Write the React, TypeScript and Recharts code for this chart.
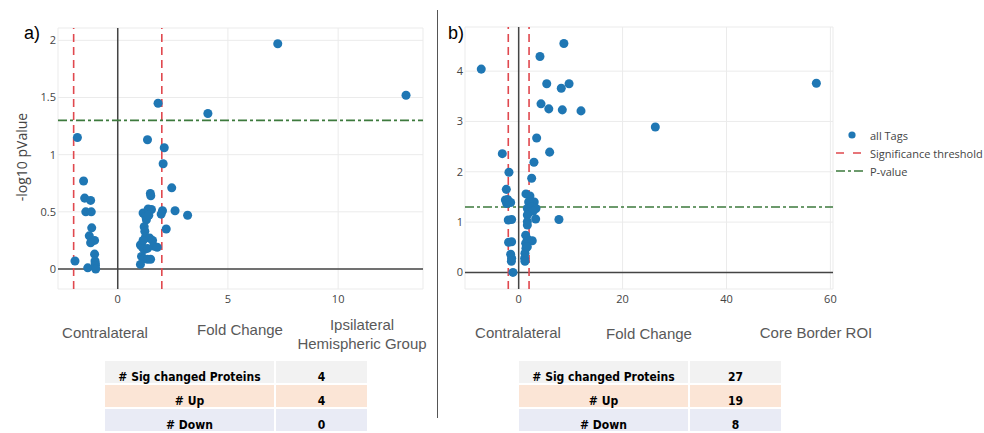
import {
  ScatterChart,
  Scatter,
  XAxis,
  YAxis,
  ZAxis,
  CartesianGrid,
  ReferenceLine,
} from "recharts";

// panel a) Contralateral vs Ipsilateral Hemispheric Group
const foldA = [
  7.26, 13.08, 1.83, 4.09, -1.83, 1.35, 2.11, 2.06, -1.55, 2.45, -1.5, -1.23,
  -1.45, -1.2, 1.48, 1.5, -1.18, -1.29, -1.05, -1.23, -1.05, -1.03, -1.02,
  -1.01, -1.36, -1.0, -1.94, 2.03, 1.97, 2.6, 3.17, 2.2, 1.15, 1.27, 1.3, 1.38,
  1.53, 1.41, 1.2, 1.23, 1.26, 1.45, 1.58, 1.64, 1.79, 1.03, 1.12, 1.2, 1.08,
  1.18, 1.35, 1.49, 1.03, 1.15, 1.35,
];
const logPA = [
  1.97, 1.52, 1.45, 1.36, 1.15, 1.13, 1.06, 0.92, 0.77, 0.71, 0.62, 0.6, 0.5,
  0.5, 0.66, 0.64, 0.36, 0.29, 0.25, 0.23, 0.13, 0.07, 0.05, 0.03, 0.01, 0.0,
  0.07, 0.51, 0.48, 0.51, 0.47, 0.35, 0.49, 0.46, 0.43, 0.525, 0.52, 0.47, 0.37,
  0.33, 0.28, 0.27, 0.25, 0.2, 0.19, 0.21, 0.19, 0.17, 0.11, 0.09, 0.085, 0.085,
  0.04, 0.25, 0.18,
];

// panel b) Contralateral vs Core Border ROI
const foldB = [
  -7.2, 8.7, 4.1, 5.4, 9.7, 8.2, 4.3, 5.8, 8.4, 12.0, 57.3, 26.3, 3.46, 5.96,
  -3.15, 2.94, -1.87, 2.5, -2.38, -2.56, -2.12, -1.54, -2.31, 1.4, 2.17, 3.0,
  1.92, 1.67, 2.5, 3.33, 2.04, 2.8, 7.75, 3.27, -2.0, -1.35, 1.67, 1.67, 1.67,
  -1.94, -1.35, 1.35, 1.67, 1.35, 2.04, 2.62, 1.4, 1.21, 1.15, 1.21, 1.67,
  -1.54, -1.35, -1.4, -1.1,
];
const logPB = [
  4.04, 4.55, 4.29, 3.75, 3.75, 3.66, 3.35, 3.25, 3.23, 3.21, 3.76, 2.89, 2.67,
  2.39, 2.36, 2.19, 1.99, 1.87, 1.65, 1.44, 1.45, 1.39, 1.37, 1.56, 1.52, 1.4,
  1.4, 1.27, 1.3, 1.27, 1.2, 1.22, 1.05, 1.06, 1.04, 1.05, 1.14, 1.01, 0.94, 0.6,
  0.61, 0.74, 0.66, 0.58, 0.63, 0.63, 0.48, 0.38, 0.28, 0.22, 0.51, 0.36, 0.28,
  0.22, 0.0,
];

const xTicksA = [0, 5, 10];
const yTicksA = [0, 0.5, 1, 1.5, 2];
const xTicksB = [0, 20, 40, 60];
const yTicksB = [0, 1, 2, 3, 4];

const foldThresholds = [-2, 2];
const pValueCut = 1.3;

const tableRows = ["# Sig changed Proteins", "# Up", "# Down"];
const countsA = [4, 4, 0];
const countsB = [27, 19, 8];
const rowColors = ["#f2f2f2", "#fbe5d6", "#e9ebf5"];

const DOT = "#1f77b4";
const RED = "#e0484e";
const GREEN = "#3d7a3d";
const AXIS = "#444";
const tickStyle = { fontFamily: "'Open Sans', sans-serif", fontSize: 11, fill: AXIS };

const zip = (xs: number[], ys: number[]) => xs.map((x, i) => ({ x, y: ys[i] }));

interface VolcanoProps {
  fold: number[];
  logp: number[];
  xDomain: [number, number];
  yDomain: [number, number];
  xTicks: number[];
  yTicks: number[];
  width: number;
  yAxisWidth: number;
  right: number;
  top: number;
}

function Volcano({
  fold,
  logp,
  xDomain,
  yDomain,
  xTicks,
  yTicks,
  width,
  yAxisWidth,
  right,
  top,
}: VolcanoProps) {
  return (
    <ScatterChart
      width={width}
      height={330}
      margin={{ top, right, bottom: 11, left: 0 }}
    >
      <CartesianGrid stroke="#ebebeb" strokeWidth={1} />
      <XAxis
        type="number"
        dataKey="x"
        domain={xDomain}
        ticks={xTicks}
        allowDataOverflow
        axisLine={false}
        tickLine={false}
        tickSize={0}
        tickMargin={6}
        height={30}
        tick={tickStyle}
      />
      <YAxis
        type="number"
        dataKey="y"
        domain={yDomain}
        ticks={yTicks}
        allowDataOverflow
        axisLine={false}
        tickLine={false}
        tickSize={0}
        tickMargin={2}
        width={yAxisWidth}
        tick={tickStyle}
      />
      <ZAxis range={[44, 44]} />
      <ReferenceLine x={0} stroke={AXIS} strokeWidth={1.5} />
      <ReferenceLine y={0} stroke={AXIS} strokeWidth={1.5} />
      {foldThresholds.map((t) => (
        <ReferenceLine
          key={t}
          x={t}
          stroke={RED}
          strokeWidth={1.6}
          strokeDasharray="8 5"
        />
      ))}
      <ReferenceLine
        y={pValueCut}
        stroke={GREEN}
        strokeWidth={1.6}
        strokeDasharray="9 3 3 3"
      />
      <Scatter
        data={zip(fold, logp)}
        fill={DOT}
        isAnimationActive={false}
      />
    </ScatterChart>
  );
}

function CountTable({ left, counts }: { left: number; counts: number[] }) {
  return (
    <div
      style={{
        position: "absolute",
        left,
        top: 361,
        fontFamily: "'Liberation Sans Narrow', 'DejaVu Sans Condensed', sans-serif",
        fontWeight: 700,
        fontSize: 12,
        color: "#000",
      }}
    >
      {tableRows.map((r, i) => (
        <div
          key={r}
          style={{
            display: "flex",
            height: 24,
            boxSizing: "border-box",
            borderBottom: "2px solid #fff",
            background: rowColors[i],
          }}
        >
          <div
            style={{
              width: 169,
              borderRight: "2px solid #fff",
              textAlign: "center",
              paddingTop: 10,
              lineHeight: "12px",
            }}
          >
            {r}
          </div>
          <div
            style={{
              width: 91,
              textAlign: "center",
              paddingTop: 10,
              lineHeight: "12px",
            }}
          >
            {counts[i]}
          </div>
        </div>
      ))}
    </div>
  );
}

const labelStyle: React.CSSProperties = {
  position: "absolute",
  fontFamily: "'Liberation Sans', Arial, sans-serif",
  fontSize: 15,
  color: "#595959",
  textAlign: "center",
  lineHeight: "19px",
  whiteSpace: "nowrap",
  transform: "translate(-50%, -50%)",
};

const legendText: React.CSSProperties = {
  fontFamily: "'Open Sans', sans-serif",
  fontSize: 11,
  color: AXIS,
};

export default function App() {
  return (
    <div
      style={{
        position: "absolute",
        left: 0,
        top: 0,
        width: 984,
        height: 433,
        overflow: "hidden",
        background: "#fff",
      }}
    >
      <div style={{ position: "absolute", left: 0, top: 0 }}>
        <Volcano
          fold={foldA}
          logp={logPA}
          xDomain={[-2.71, 13.85]}
          yDomain={[-0.175, 2.108]}
          xTicks={xTicksA}
          yTicks={yTicksA}
          width={440}
          yAxisWidth={58}
          right={17}
          top={28}
        />
      </div>
      <div style={{ position: "absolute", left: 440, top: 0 }}>
        <Volcano
          fold={foldB}
          logp={logPB}
          xDomain={[-10.33, 60.5]}
          yDomain={[-0.33, 4.877]}
          xTicks={xTicksB}
          yTicks={yTicksB}
          width={400}
          yAxisWidth={25}
          right={7}
          top={27}
        />
      </div>

      {/* y axis title of panel a */}
      <div
        style={{
          position: "absolute",
          left: 21,
          top: 157,
          transform: "translate(-50%, -50%) rotate(-90deg)",
          fontFamily: "'Open Sans', sans-serif",
          fontSize: 14,
          color: AXIS,
          whiteSpace: "nowrap",
        }}
      >
        -log10 pValue
      </div>

      <div
        style={{
          position: "absolute",
          left: 24,
          top: 23,
          fontFamily: "'Liberation Sans', Arial, sans-serif",
          fontSize: 18,
          lineHeight: "20px",
        }}
      >
        a)
      </div>
      <div
        style={{
          position: "absolute",
          left: 448,
          top: 23,
          fontFamily: "'Liberation Sans', Arial, sans-serif",
          fontSize: 18,
          lineHeight: "20px",
        }}
      >
        b)
      </div>

      {/* legend */}
      <div style={{ position: "absolute", left: 834, top: 126 }}>
        {[0, 1, 2].map((i) => (
          <div
            key={i}
            style={{ display: "flex", alignItems: "center", height: 18 }}
          >
            <svg width={36} height={18}>
              {i === 0 && <circle cx={18} cy={9} r={3.6} fill={DOT} />}
              {i === 1 && (
                <line
                  x1={2}
                  x2={30}
                  y1={9}
                  y2={9}
                  stroke={RED}
                  strokeWidth={1.6}
                  strokeDasharray="8 9"
                />
              )}
              {i === 2 && (
                <line
                  x1={2}
                  x2={30}
                  y1={9}
                  y2={9}
                  stroke={GREEN}
                  strokeWidth={1.6}
                  strokeDasharray="9 3 3 3"
                />
              )}
            </svg>
            <span style={legendText}>
              {["all Tags", "Significance threshold", "P-value"][i]}
            </span>
          </div>
        ))}
      </div>

      {/* separator */}
      <div
        style={{
          position: "absolute",
          left: 437,
          top: 10,
          width: 1,
          height: 408,
          background: "#555",
        }}
      />

      <div style={{ ...labelStyle, left: 105, top: 332 }}>Contralateral</div>
      <div style={{ ...labelStyle, left: 240, top: 329 }}>Fold Change</div>
      <div style={{ ...labelStyle, left: 362, top: 334 }}>
        Ipsilateral
        <br />
        Hemispheric Group
      </div>
      <div style={{ ...labelStyle, left: 518, top: 332 }}>Contralateral</div>
      <div style={{ ...labelStyle, left: 649, top: 333 }}>Fold Change</div>
      <div style={{ ...labelStyle, left: 816, top: 332 }}>Core Border ROI</div>

      <CountTable left={105} counts={countsA} />
      <CountTable left={519} counts={countsB} />
    </div>
  );
}
